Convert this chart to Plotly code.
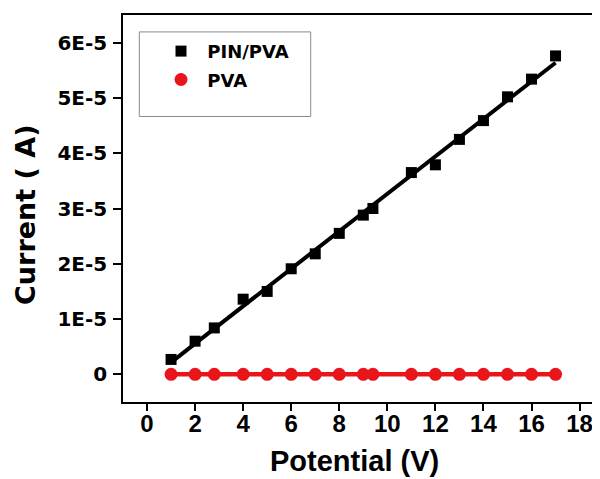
import numpy as np
import plotly.graph_objects as go

potential = [1, 2, 2.8, 4, 5, 6, 7, 8, 9, 9.4, 11, 12, 13, 14, 15, 16, 17]
current_pin_pva = [0.27e-5, 0.60e-5, 0.84e-5, 1.36e-5, 1.50e-5, 1.91e-5, 2.18e-5,
                   2.55e-5, 2.88e-5, 3.00e-5, 3.65e-5, 3.79e-5, 4.25e-5, 4.59e-5,
                   5.02e-5, 5.34e-5, 5.76e-5]
current_pva = [0.0] * len(potential)

x_ticks = [0, 2, 4, 6, 8, 10, 12, 14, 16, 18]
y_ticks = [0, 1e-5, 2e-5, 3e-5, 4e-5, 5e-5, 6e-5]
y_ticklabels = ["0", "1E-5", "2E-5", "3E-5", "4E-5", "5E-5", "6E-5"]

# linear fit for the PIN/PVA data
slope, intercept = np.polyfit(potential, current_pin_pva, 1)
fit_x = [potential[0], potential[-1]]
fit_y = [slope * v + intercept for v in fit_x]

ARIAL = "Liberation Sans"
WIDE = "DejaVu Sans"
RED = "#e8161b"

fig = go.Figure()
fig.add_trace(go.Scatter(x=fit_x, y=fit_y, mode="lines",
                         line=dict(color="black", width=4), showlegend=False,
                         hoverinfo="skip"))
fig.add_trace(go.Scatter(x=potential, y=current_pin_pva, mode="markers",
                         name="\u00a0PIN/PVA", legendgroup="a",
                         marker=dict(symbol="square", size=11, color="black")))
fig.add_trace(go.Scatter(x=potential, y=current_pva, mode="lines",
                         line=dict(color=RED, width=4.5), showlegend=False,
                         hoverinfo="skip"))
fig.add_trace(go.Scatter(x=potential, y=current_pva, mode="markers",
                         name="\u00a0PVA", legendgroup="b",
                         marker=dict(symbol="circle", size=13, color=RED)))

# page body has an 8px offset
OFF = 8
L, R, T, B = 115, 8, 5, 85
W, H = 600, 479
pw, ph = W - L - R, H - T - B


def px(wx):
    return (wx - OFF - L) / pw


def py(wy):
    return (H - B - (wy - OFF)) / ph


# legend frame
fig.add_shape(type="rect", xref="paper", yref="paper",
              x0=px(139.3), x1=px(310.7), y0=py(115), y1=py(30),
              line=dict(color="#8a8a8a", width=1), fillcolor="rgba(0,0,0,0)")

fig.add_annotation(text="Potential (V)", xref="paper", yref="paper",
                   x=px(354), y=py(461), xanchor="center", yanchor="middle",
                   showarrow=False,
                   font=dict(family=ARIAL, size=29, weight="bold", color="black"))
fig.add_annotation(text="Current ( A)", xref="paper", yref="paper",
                   x=px(26), y=py(214), xanchor="center", yanchor="middle",
                   textangle=-90, showarrow=False,
                   font=dict(family=WIDE, size=27, weight="bold", color="black"))

fig.update_layout(
    width=W, height=H,
    margin=dict(l=L, r=R, t=T, b=B),
    paper_bgcolor="white", plot_bgcolor="white",
    font=dict(family=ARIAL, color="black"),
    legend=dict(x=px(161), y=py(31), xanchor="left", yanchor="top",
                bgcolor="rgba(0,0,0,0)", borderwidth=0,
                font=dict(family=WIDE, size=18, weight="bold", color="black"),
                tracegroupgap=2),
    xaxis=dict(range=[-1, 18.85], tickvals=x_ticks, ticks="outside", ticklen=7,
               tickwidth=1.5, tickcolor="black",
               showline=True, linecolor="black", linewidth=1.5, mirror=True,
               showgrid=False, zeroline=False, ticklabelstandoff=-8,
               tickfont=dict(family=ARIAL, size=24, weight="bold")),
    yaxis=dict(range=[-0.5e-5, 6.5e-5], tickvals=y_ticks, ticktext=y_ticklabels,
               ticks="outside", ticklen=8, tickwidth=1.5, tickcolor="black",
               showline=True, linecolor="black", linewidth=1.5, mirror=False,
               showgrid=False, zeroline=False, ticklabelstandoff=2,
               tickfont=dict(family=WIDE, size=20, weight="bold")),
)

fig.write_html("out.html")
